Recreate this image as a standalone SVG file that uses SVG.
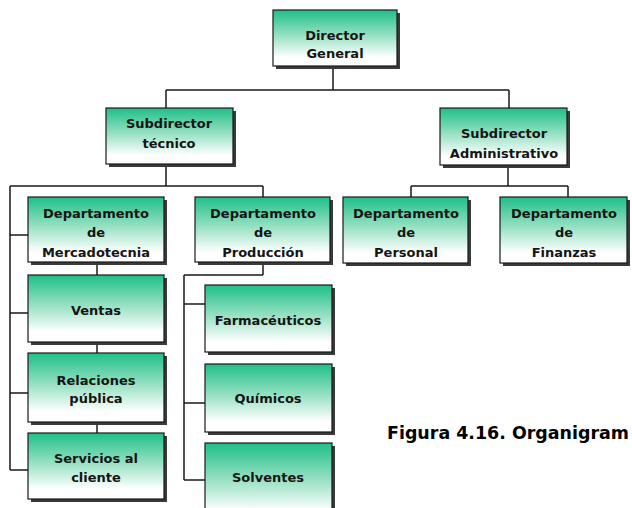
<svg xmlns="http://www.w3.org/2000/svg" width="632" height="508" viewBox="0 0 632 508">
<defs>
<linearGradient id="g" x1="0" y1="0" x2="0" y2="1">
<stop offset="0" stop-color="#1fbf88"/>
<stop offset="0.45" stop-color="#96e0c2"/>
<stop offset="0.85" stop-color="#ffffff"/>
<stop offset="1" stop-color="#ffffff"/>
</linearGradient>
</defs>
<style>
.sh{fill:#3a3a3a}
.bx{fill:url(#g);stroke:#1a1a1a;stroke-width:1.2}
.t{font-family:"DejaVu Sans",Verdana,sans-serif;font-weight:bold;font-size:13px;fill:#151515;text-anchor:middle}
.c{stroke:#1a1a1a;stroke-width:1.5;fill:none}
.cap{font-family:"DejaVu Sans",Verdana,sans-serif;font-weight:bold;font-size:17.5px;fill:#000}
</style>
<rect width="632" height="508" fill="#fff"/>
<g id="connectors">
<path class="c" d="M333 66V90M166 90H509M166 90V108M509 90V108"/>
<path class="c" d="M166 164V186M10 186H263M263 186V197M10 186V470M10 235H28M10 313H28M10 393H28M10 470H28"/>
<path class="c" d="M97 262V433"/>
<path class="c" d="M508 165V186M411 186H568M411 186V197M568 186V197"/>
<path class="c" d="M263 262V275M184 275H263M184 275V480M184 304H205M184 403H205M184 480H205"/>
</g>
<g id="director">
<rect class="sh" x="276" y="13" width="124" height="56"/>
<rect class="bx" x="273" y="10" width="124" height="56"/>
<text class="t" x="335" y="40">Director</text>
<text class="t" x="335" y="58">General</text>
</g>
<g id="subdir-tecnico">
<rect class="sh" x="109" y="111" width="127" height="56"/>
<rect class="bx" x="106" y="108" width="127" height="56"/>
<text class="t" x="169" y="128">Subdirector</text>
<text class="t" x="169" y="148">técnico</text>
</g>
<g id="subdir-admin">
<rect class="sh" x="443" y="111" width="127" height="57"/>
<rect class="bx" x="440" y="108" width="127" height="57"/>
<text class="t" x="504" y="138">Subdirector</text>
<text class="t" x="504" y="158">Administrativo</text>
</g>
<g id="dep-mercadotecnia">
<rect class="sh" x="31" y="200" width="136" height="65"/>
<rect class="bx" x="28" y="197" width="136" height="65"/>
<text class="t" x="96" y="218">Departamento</text>
<text class="t" x="96" y="237">de</text>
<text class="t" x="96" y="257">Mercadotecnia</text>
</g>
<g id="dep-produccion">
<rect class="sh" x="198" y="200" width="135" height="65"/>
<rect class="bx" x="195" y="197" width="135" height="65"/>
<text class="t" x="263" y="218">Departamento</text>
<text class="t" x="263" y="237">de</text>
<text class="t" x="263" y="257">Producción</text>
</g>
<g id="dep-personal">
<rect class="sh" x="346" y="200" width="125" height="66"/>
<rect class="bx" x="343" y="197" width="125" height="66"/>
<text class="t" x="406" y="218">Departamento</text>
<text class="t" x="406" y="237">de</text>
<text class="t" x="406" y="257">Personal</text>
</g>
<g id="dep-finanzas">
<rect class="sh" x="503" y="200" width="127" height="66"/>
<rect class="bx" x="500" y="197" width="127" height="66"/>
<text class="t" x="564" y="218">Departamento</text>
<text class="t" x="564" y="237">de</text>
<text class="t" x="564" y="257">Finanzas</text>
</g>
<g id="ventas">
<rect class="sh" x="31" y="278" width="136" height="67"/>
<rect class="bx" x="28" y="275" width="136" height="67"/>
<text class="t" x="96" y="315">Ventas</text>
</g>
<g id="relaciones">
<rect class="sh" x="31" y="356" width="136" height="69"/>
<rect class="bx" x="28" y="353" width="136" height="69"/>
<text class="t" x="96" y="385">Relaciones</text>
<text class="t" x="96" y="403">pública</text>
</g>
<g id="servicios">
<rect class="sh" x="31" y="436" width="136" height="66"/>
<rect class="bx" x="28" y="433" width="136" height="66"/>
<text class="t" x="96" y="463">Servicios al</text>
<text class="t" x="96" y="482">cliente</text>
</g>
<g id="farmaceuticos">
<rect class="sh" x="208" y="288" width="127" height="67"/>
<rect class="bx" x="205" y="285" width="127" height="67"/>
<text class="t" x="268" y="325">Farmacéuticos</text>
</g>
<g id="quimicos">
<rect class="sh" x="208" y="367" width="127" height="68"/>
<rect class="bx" x="205" y="364" width="127" height="68"/>
<text class="t" x="268" y="403">Químicos</text>
</g>
<g id="solventes">
<rect class="sh" x="208" y="446" width="127" height="80"/>
<rect class="bx" x="205" y="443" width="127" height="80"/>
<text class="t" x="268" y="482">Solventes</text>
</g>
<text class="cap" x="387" y="439" textLength="242" lengthAdjust="spacingAndGlyphs">Figura 4.16. Organigram</text>
</svg>
